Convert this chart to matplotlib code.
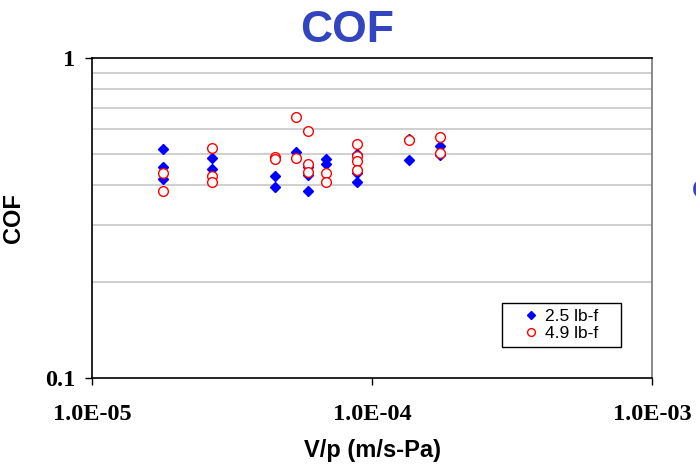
import matplotlib.pyplot as plt
from matplotlib.patches import Rectangle
from matplotlib.ticker import NullFormatter

# V/p (m/s-Pa) and COF, 2.5 lb-f load
vp_25 = [1.80e-5, 1.80e-5, 1.80e-5,
         2.68e-5, 2.68e-5, 2.68e-5,
         4.52e-5, 4.52e-5,
         5.37e-5,
         5.89e-5, 5.89e-5, 5.89e-5,
         6.83e-5, 6.83e-5,
         8.86e-5, 8.86e-5, 8.86e-5,
         1.355e-4, 1.355e-4,
         1.75e-4, 1.75e-4]
cof_25 = [0.518, 0.457, 0.419,
          0.522, 0.486, 0.449,
          0.428, 0.394,
          0.508,
          0.457, 0.432, 0.383,
          0.483, 0.466,
          0.501, 0.437, 0.409,
          0.558, 0.480,
          0.531, 0.498]

# V/p (m/s-Pa) and COF, 4.9 lb-f load
vp_49 = [1.80e-5, 1.80e-5,
         2.68e-5, 2.68e-5, 2.68e-5,
         4.52e-5, 4.52e-5,
         5.37e-5, 5.37e-5,
         5.89e-5, 5.89e-5, 5.89e-5,
         6.83e-5, 6.83e-5,
         8.86e-5, 8.86e-5, 8.86e-5, 8.86e-5,
         1.355e-4,
         1.75e-4, 1.75e-4]
cof_49 = [0.436, 0.384,
          0.522, 0.428, 0.411,
          0.491, 0.483,
          0.656, 0.488,
          0.590, 0.466, 0.439,
          0.436, 0.411,
          0.537, 0.495, 0.477, 0.448,
          0.554,
          0.565, 0.506]

x_ticks = [1e-5, 1e-4, 1e-3]
x_labels = ['1.0E-05', '1.0E-04', '1.0E-03']
y_ticks = [0.1, 1]
y_labels = ['0.1', '1']
y_grid = [0.2, 0.3, 0.4, 0.5, 0.6, 0.7, 0.8, 0.9]

fig = plt.figure(figsize=(6.96, 4.71), dpi=100)
ax = fig.add_axes([92 / 696, 1 - 378 / 471, 560 / 696, 320 / 471])

ax.plot(vp_25, cof_25, linestyle='none', marker='D', markersize=5.5,
        color='#0000ff', markeredgecolor='#0000ff', label='2.5 lb-f', zorder=3)
ax.plot(vp_49, cof_49, linestyle='none', marker='o', markersize=7,
        markerfacecolor='white', markeredgecolor='#ff0000', markeredgewidth=1,
        label='4.9 lb-f', zorder=4)

ax.set_xscale('log')
ax.set_yscale('log')
ax.set_xlim(1e-5, 1e-3)
ax.set_ylim(0.1, 1)

ax.set_xticks(x_ticks, x_labels)
ax.set_yticks(y_ticks, y_labels)
ax.minorticks_off()
ax.set_yticks(y_grid, minor=True)
ax.yaxis.set_minor_formatter(NullFormatter())
ax.tick_params(axis='y', which='minor', length=0)
ax.grid(True, axis='y', which='minor', color='#cccccc', linewidth=1.3)

tick_font = {'family': 'Liberation Serif', 'weight': 'bold', 'size': 17.5}
for lab in ax.get_xticklabels() + ax.get_yticklabels():
    lab.set_fontproperties(tick_font)
ax.tick_params(axis='both', which='major', length=5, width=1, direction='out')
ax.tick_params(axis='x', pad=14)
ax.tick_params(axis='y', pad=7)

for side in ['left', 'bottom', 'top']:
    ax.spines[side].set_color('black')
    ax.spines[side].set_linewidth(1.2)
ax.spines['right'].set_color('#777777')
ax.spines['right'].set_linewidth(1.2)

label_font = {'family': 'Liberation Sans', 'weight': 'bold', 'size': 17}
ax.set_xlabel('V/p (m/s-Pa)', fontdict=label_font)
ax.xaxis.set_label_coords(0.5, -(439 - 378) / 320)
ax.set_ylabel('COF', fontdict=label_font)
ax.yaxis.set_label_coords(-(92 - 25) / 560, 0.5)

fig.text(347 / 696, 1 - 30 / 471, 'COF', ha='center', va='center',
         family='Liberation Sans', weight='bold', size=32, color='#3344c0')

# edge of the neighbouring chart title
fig.text(692 / 696, 1 - 191 / 471, 'C', ha='left', va='center',
         family='Liberation Sans', weight='bold', size=19, color='#3344c0')

# legend box
fig.patches.append(Rectangle((502 / 696, 1 - 347 / 471), 119 / 696, 44 / 471,
                             transform=fig.transFigure, facecolor='white',
                             edgecolor='black', linewidth=1, zorder=5))
leg = fig.legend(loc='center', bbox_to_anchor=(561.5 / 696, 1 - 325 / 471),
                 frameon=False, prop={'family': 'Liberation Sans', 'size': 12.5},
                 handlelength=0.7, handletextpad=0.5, labelspacing=0.15,
                 markerscale=0.8, borderpad=0)
leg.set_zorder(6)

fig.savefig('out.png', dpi=100)
